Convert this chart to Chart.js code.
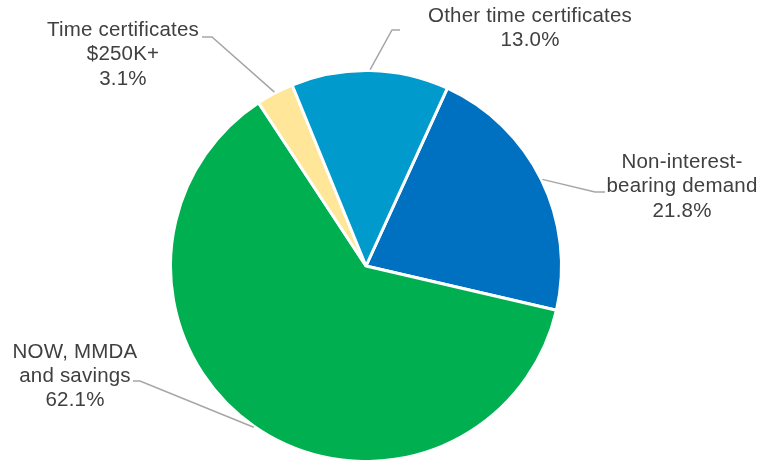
<!DOCTYPE html>
<html>
<head>
<meta charset="utf-8">
<script src="https://cdn.jsdelivr.net/npm/chart.js@4"></script>
<style>
  html, body { margin: 0; padding: 0; background: #ffffff; }
  canvas { display: block; }
</style>
</head>
<body>
<canvas id="depositChart" width="763" height="460"></canvas>
<script>
// deposit mix, clockwise from the top-right
const categories = [
    ["Non-interest-", "bearing demand"],
    ["NOW, MMDA", "and savings"],
    ["Time certificates", "$250K+"],
    ["Other time certificates"]
];
const shares = [21.8, 62.1, 3.1, 13.0];
const sliceColors = ["#0070C0", "#00B050", "#FFE699", "#009BCC"];

// where each callout sits: elbow of the leader line, short tail, text centre
const callouts = [
    { elbow: [595, 192], tail: [605, 192], text: [682, 162.5] },
    { elbow: [140, 381], tail: [133, 381], text: [75, 352] },
    { elbow: [212, 37],  tail: [202, 37],  text: [123, 30.5] },
    { elbow: [392, 30],  tail: [400, 30],  text: [530, 16.5] }
];

const calloutPlugin = {
    id: "callouts",
    afterDraw(chart){
        const ctx = chart.ctx;
        const arcs = chart.getDatasetMeta(0).data;
        ctx.save();
        arcs.forEach((arc, i) => {
            const p = arc.getProps(["x", "y", "startAngle", "endAngle", "outerRadius"], true);
            const mid = (p.startAngle + p.endAngle) / 2;
            const r = p.outerRadius + 1;
            const ax = p.x + Math.cos(mid) * r;
            const ay = p.y + Math.sin(mid) * r;
            const c = callouts[i];

            ctx.strokeStyle = "#A6A6A6";
            ctx.lineWidth = 1.5;
            ctx.beginPath();
            ctx.moveTo(ax, ay);
            ctx.lineTo(c.elbow[0], c.elbow[1]);
            ctx.lineTo(c.tail[0], c.tail[1]);
            ctx.stroke();

            const lines = categories[i].concat([shares[i].toFixed(1) + "%"]);
            ctx.fillStyle = "#404040";
            ctx.font = "20.5px 'Liberation Sans', Arial, sans-serif";
            ctx.letterSpacing = "0.2px";
            ctx.textAlign = "center";
            ctx.textBaseline = "middle";
            lines.forEach((t, k) => {
                ctx.fillText(t, c.text[0], c.text[1] + k * 24.3);
            });
        });
        ctx.restore();
    }
};

new Chart(document.getElementById("depositChart").getContext("2d"), {
    type: "pie",
    data: {
        labels: categories.map(l => l.join(" ")),
        datasets: [{
            data: shares,
            backgroundColor: sliceColors,
            borderColor: "#ffffff",
            borderWidth: 3
        }]
    },
    options: {
        responsive: false,
        animation: false,
        rotation: 24.6,
        radius: 195.5,
        layout: {
            padding: { left: 172, right: 203, top: 72, bottom: 0 }
        },
        plugins: {
            legend: { display: false },
            tooltip: { enabled: false }
        }
    },
    plugins: [calloutPlugin]
});
</script>
</body>
</html>
